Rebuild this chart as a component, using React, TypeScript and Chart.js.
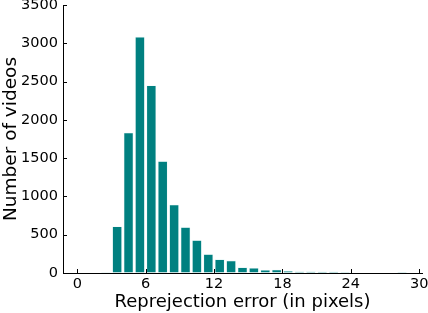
import React, { useEffect, useRef } from "react";
import { Chart, registerables } from "chart.js";

Chart.register(...registerables);

const binStarts = [0, 1, 2, 3, 4, 5, 6, 7, 8, 9, 10, 11, 12, 13, 14, 15, 16, 17, 18, 19, 20, 21, 22, 23, 24, 25, 26, 27, 28, 29];
const counts = [0, 0, 10, 608, 1833, 3084, 2450, 1461, 892, 599, 429, 245, 179, 162, 74, 66, 39, 44, 26, 22, 22, 20, 20, 13, 7, 6, 6, 6, 12, 0];
const xTicks = [0, 6, 12, 18, 24, 30];
const yTicks = [0, 500, 1000, 1500, 2000, 2500, 3000, 3500];
const xTitle = "Reprejection error (in pixels)";
const yTitle = "Number of videos";

const FONT = "'DejaVu Sans', sans-serif";

const inwardTicks = {
  id: "inwardTicks",
  afterDraw(chart: any) {
    const { ctx, scales } = chart;
    const xs = scales.x;
    const ys = scales.y;
    const area = chart.chartArea;
    ctx.save();
    ctx.strokeStyle = "#000";
    ctx.lineWidth = 1;
    ctx.beginPath();
    for (const v of xTicks) {
      const px = Math.round(xs.getPixelForValue(v)) + 0.5;
      ctx.moveTo(px, area.bottom);
      ctx.lineTo(px, area.bottom - 4);
    }
    for (const v of yTicks) {
      const py = Math.round(ys.getPixelForValue(v)) + 0.5;
      ctx.moveTo(area.left, py);
      ctx.lineTo(area.left + 4, py);
    }
    ctx.stroke();
    ctx.restore();
  },
};

export default function App() {
  const ref = useRef<HTMLCanvasElement | null>(null);
  useEffect(() => {
    if (!ref.current) return;
    const chart = new Chart(ref.current, {
      type: "bar",
      data: {
        datasets: [
          {
            data: binStarts.map((b, i) => ({ x: b + 0.5, y: counts[i] })),
            backgroundColor: "#008080",
            borderColor: "rgba(200,235,235,0.6)",
            borderWidth: 0.6,
            barPercentage: 0.85,
            categoryPercentage: 1,
          },
        ],
      },
      options: {
        animation: false,
        responsive: false,
        maintainAspectRatio: false,
        layout: { padding: { top: 5, right: 6, left: 0, bottom: 0 } },
        plugins: { legend: { display: false }, tooltip: { enabled: false } },
        scales: {
          x: {
            type: "linear",
            offset: false,
            min: -1.25,
            max: 30.25,
            grid: { display: true, offset: false, drawOnChartArea: false, drawTicks: false },
            border: { display: true, color: "#000", width: 1 },
            afterBuildTicks: (s: any) => {
              s.ticks = xTicks.map((v) => ({ value: v }));
            },
            afterFit: (s: any) => {
              s.height = 40;
              s.paddingLeft = 0;
              s.paddingRight = 0;
            },
            ticks: {
              color: "#000",
              font: { family: FONT, size: 14.5 },
              padding: 3,
              maxRotation: 0,
              autoSkip: false,
              callback: (v: any) => String(v),
            },
            title: {
              display: true,
              text: xTitle,
              color: "#000",
              font: { family: FONT, size: 18 },
              padding: 0,
            },
          },
          y: {
            type: "linear",
            min: 0,
            max: 3500,
            grid: { display: true, drawOnChartArea: false, drawTicks: false },
            border: { display: true, color: "#000", width: 1 },
            afterBuildTicks: (s: any) => {
              s.ticks = yTicks.map((v) => ({ value: v }));
            },
            afterFit: (s: any) => {
              s.width = 63;
              s.paddingTop = 0;
              s.paddingBottom = 0;
            },
            ticks: {
              color: "#000",
              font: { family: FONT, size: 14.5 },
              padding: 5,
              autoSkip: false,
              callback: (v: any) => String(v),
            },
            title: {
              display: true,
              text: yTitle,
              color: "#000",
              font: { family: FONT, size: 18.5 },
              padding: 0,
            },
          },
        },
      },
      plugins: [inwardTicks],
    });
    return () => chart.destroy();
  }, []);
  return (
    <div style={{ position: "fixed", left: 0, top: 0, width: 428, height: 313, background: "#fff" }}>
      <canvas ref={ref} width={428} height={313} style={{ display: "block", width: 428, height: 313 }} />
    </div>
  );
}
